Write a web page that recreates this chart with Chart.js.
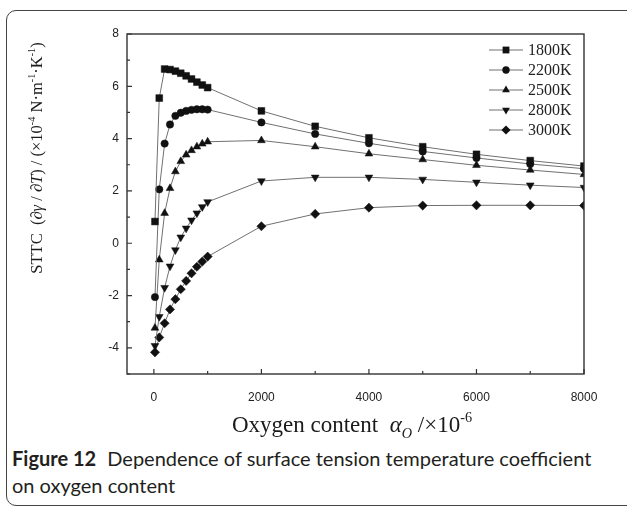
<!DOCTYPE html>
<html>
<head>
<meta charset="utf-8">
<script src="https://cdn.jsdelivr.net/npm/chart.js@4"></script>
<style>
  html, body { margin: 0; padding: 0; background: #fff; overflow: hidden; }
  #wrap { position: relative; width: 627px; height: 507px; overflow: hidden; }
  #frame { position: absolute; left: 6px; top: 10px; width: 700px; height: 494px; border: 1px solid #444; border-radius: 10px; }
  #chart { position: absolute; left: 0; top: 0; }
  #caption { position: absolute; left: 12px; top: 445px; font-family: Lato, "Open Sans", sans-serif; font-size: 20px; line-height: 27px; color: #231f20; white-space: nowrap; }
  #caption b { font-weight: 700; margin-right: 6px; }
</style>
</head>
<body>
<div id="wrap">
<div id="frame"></div>
<canvas id="chart" width="627" height="440"></canvas>
<div id="caption"><b>Figure 12</b> Dependence of surface tension temperature coefficient<br>on oxygen content</div>
</div>
<script>
// oxygen content (x 10^-6)
const oxygen = [20, 100, 200, 300, 400, 500, 600, 700, 800, 900, 1000, 2000, 3000, 4000, 5000, 6000, 7000, 8000];

// STTC values, one array per temperature
const sttc1800 = [0.83, 5.55, 6.66, 6.64, 6.58, 6.50, 6.40, 6.28, 6.16, 6.05, 5.95, 5.06, 4.47, 4.03, 3.69, 3.40, 3.16, 2.95];
const sttc2200 = [-2.06, 2.06, 3.81, 4.54, 4.87, 4.99, 5.06, 5.10, 5.12, 5.12, 5.11, 4.62, 4.18, 3.82, 3.51, 3.26, 3.03, 2.85];
const sttc2500 = [-3.24, -0.63, 1.15, 2.10, 2.74, 3.13, 3.38, 3.55, 3.69, 3.80, 3.88, 3.93, 3.69, 3.42, 3.20, 2.98, 2.80, 2.63];
const sttc2800 = [-3.92, -2.81, -1.70, -0.88, -0.26, 0.23, 0.57, 0.88, 1.15, 1.39, 1.58, 2.38, 2.52, 2.52, 2.44, 2.33, 2.22, 2.13];
const sttc3000 = [-4.17, -3.60, -3.06, -2.53, -2.14, -1.76, -1.44, -1.15, -0.90, -0.70, -0.51, 0.65, 1.12, 1.36, 1.44, 1.45, 1.45, 1.44];

const seriesNames = ['1800K', '2200K', '2500K', '2800K', '3000K'];
const seriesValues = [sttc1800, sttc2200, sttc2500, sttc2800, sttc3000];

const xTicks = [0, 2000, 4000, 6000, 8000];
const xMinorTicks = [1000, 3000, 5000, 7000];
const yTicks = [-4, -2, 0, 2, 4, 6, 8];
const yMinorTicks = [-5, -3, -1, 1, 3, 5, 7];

// marker look for each series
const markers = [
    { style: 'rect', radius: 4.8, rotation: 0 },
    { style: 'circle', radius: 3.7, rotation: 0 },
    { style: 'triangle', radius: 4.5, rotation: 0 },
    { style: 'triangle', radius: 4.5, rotation: 180 },
    { style: 'rectRot', radius: 4.6, rotation: 0 }
];

const serif = '"Liberation Serif", "Times New Roman", serif';
const sans = '"Liberation Sans", Arial, sans-serif';

const datasets = seriesNames.map((name, i) => ({
    label: name,
    data: oxygen.map((x, j) => ({ x: x, y: seriesValues[i][j] })),
    borderColor: '#707070',
    borderWidth: 1,
    pointStyle: markers[i].style,
    pointRadius: markers[i].radius,
    pointRotation: markers[i].rotation,
    pointBackgroundColor: '#111',
    pointBorderColor: '#111',
    pointBorderWidth: 0.5,
    clip: 0,
    tension: 0
}));

// draws a marker like the chart does, for the legend
function drawMarker(ctx, m, x, y) {
    ctx.save();
    ctx.fillStyle = '#111';
    ctx.translate(x, y);
    ctx.rotate(m.rotation * Math.PI / 180);
    ctx.beginPath();
    const r = m.radius;
    if (m.style === 'rect') {
        const s = r * Math.SQRT1_2;
        ctx.rect(-s, -s, 2 * s, 2 * s);
    } else if (m.style === 'circle') {
        ctx.arc(0, 0, r, 0, Math.PI * 2);
    } else if (m.style === 'triangle') {
        for (let k = 0; k < 3; k++) {
            const a = k * 2 * Math.PI / 3;
            ctx.lineTo(Math.sin(a) * r, -Math.cos(a) * r);
        }
        ctx.closePath();
    } else if (m.style === 'rectRot') {
        ctx.moveTo(0, -r); ctx.lineTo(r, 0); ctx.lineTo(0, r); ctx.lineTo(-r, 0);
        ctx.closePath();
    }
    ctx.fill();
    ctx.restore();
}

// draws a run of text pieces (italic / superscript / subscript) starting at x
function drawPieces(ctx, pieces, size, x, y, measureOnly) {
    let cx = x;
    pieces.forEach(p => {
        const fs = p.sup || p.sub ? size * 0.62 : size;
        ctx.font = (p.italic ? 'italic ' : '') + fs + 'px ' + serif;
        const dy = p.sup ? -size * 0.42 : (p.sub ? size * 0.28 : 0);
        if (!measureOnly) ctx.fillText(p.t, cx, y + dy);
        cx += ctx.measureText(p.t).width;
    });
    return cx - x;
}

const yTitle = [
    { t: 'STTC  (' }, { t: '∂γ', italic: true }, { t: ' / ∂' }, { t: 'T', italic: true },
    { t: ') / (×10' }, { t: '-4', sup: true }, { t: ' N·m' }, { t: '-1', sup: true },
    { t: '·K' }, { t: '-1', sup: true }, { t: ')' }
];
const xTitle = [
    { t: 'Oxygen content  ' }, { t: 'α', italic: true }, { t: 'O', italic: true, sub: true },
    { t: ' /×10' }, { t: '-6', sup: true }
];

const decorPlugin = {
    id: 'decor',
    afterDraw(chart) {
        const ctx = chart.ctx;
        const area = chart.chartArea;
        const xs = chart.scales.x;
        const ys = chart.scales.y;
        ctx.save();
        ctx.strokeStyle = '#333';
        ctx.lineWidth = 1.4;
        ctx.strokeRect(area.left, area.top, area.right - area.left, area.bottom - area.top);

        // inward ticks on bottom and left
        ctx.lineWidth = 1.2;
        ctx.beginPath();
        xTicks.forEach(v => { const p = xs.getPixelForValue(v); ctx.moveTo(p, area.bottom); ctx.lineTo(p, area.bottom - 5); });
        xMinorTicks.forEach(v => { const p = xs.getPixelForValue(v); ctx.moveTo(p, area.bottom); ctx.lineTo(p, area.bottom - 3); });
        yTicks.forEach(v => { const p = ys.getPixelForValue(v); ctx.moveTo(area.left, p); ctx.lineTo(area.left + 5, p); });
        yMinorTicks.forEach(v => { const p = ys.getPixelForValue(v); ctx.moveTo(area.left, p); ctx.lineTo(area.left + 3, p); });
        ctx.stroke();

        // legend
        ctx.textBaseline = 'middle';
        seriesNames.forEach((name, i) => {
            const y = 50 + i * 20;
            ctx.strokeStyle = '#707070';
            ctx.lineWidth = 1;
            ctx.beginPath();
            ctx.moveTo(489, y); ctx.lineTo(523, y);
            ctx.stroke();
            drawMarker(ctx, markers[i], 506, y);
            ctx.fillStyle = '#222';
            ctx.font = '16px ' + serif;
            ctx.fillText(name, 528, y + 1);
        });

        // axis titles
        ctx.textBaseline = 'alphabetic';
        ctx.fillStyle = '#1a1a1a';
        const xw = drawPieces(ctx, xTitle, 23, 0, 0, true);
        drawPieces(ctx, xTitle, 23, 352 - xw / 2, 432, false);

        ctx.translate(42, 158);
        ctx.rotate(-Math.PI / 2);
        const yw = drawPieces(ctx, yTitle, 16.5, 0, 0, true);
        drawPieces(ctx, yTitle, 16.5, -yw / 2, 0, false);
        ctx.restore();
    }
};

new Chart(document.getElementById('chart'), {
    type: 'line',
    data: { datasets: datasets },
    options: {
        responsive: false,
        animation: false,
        devicePixelRatio: 1,
        layout: { padding: { top: 34, right: 43, left: 0, bottom: 0 } },
        plugins: { legend: { display: false }, tooltip: { enabled: false } },
        scales: {
            x: {
                type: 'linear',
                min: -500,
                max: 8000,
                afterBuildTicks: s => { s.ticks = xTicks.map(v => ({ value: v })); },
                afterFit: s => { s.height = 66; },
                grid: { display: false, drawTicks: false },
                border: { display: false },
                ticks: { padding: 16, color: '#222', font: { family: sans, size: 12 }, maxRotation: 0, callback: v => String(v) }
            },
            y: {
                type: 'linear',
                min: -5,
                max: 8,
                afterBuildTicks: s => { s.ticks = yTicks.map(v => ({ value: v })); },
                afterFit: s => { s.width = 127; },
                grid: { display: false, drawTicks: false },
                border: { display: false },
                ticks: { padding: 8, color: '#222', font: { family: sans, size: 12 }, callback: v => String(v) }
            }
        }
    },
    plugins: [decorPlugin]
});
</script>
</body>
</html>
